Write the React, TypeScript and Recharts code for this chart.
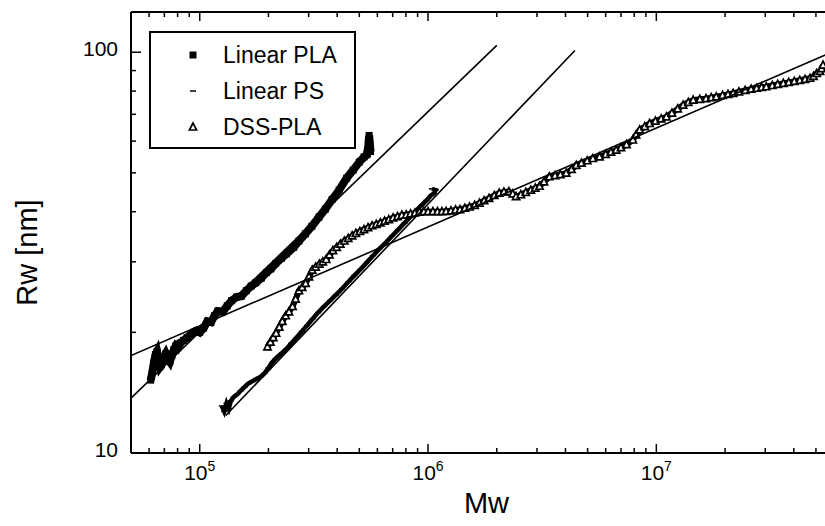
import React from "react";
import { ScatterChart, Scatter, XAxis, YAxis, Legend } from "recharts";

// Linear PLA (filled squares)
const plaMw = [
  61000, 62000, 63000, 64000, 65000, 66000, 67000, 68000, 69500, 71000, 72500,
  74000, 75500, 77000, 78500, 80000, 82000, 85000, 88000, 91000, 94000, 97000,
  100000, 104000, 108000, 112000, 116000, 120000, 126000, 132000, 138000,
  145000, 152000, 160000, 168000, 176000, 186000, 196000, 205000, 215000,
  228000, 240000, 258000, 272000, 290000, 310000, 333000, 355000, 380000,
  408000, 440000, 470000, 500000, 525000, 540000, 548000, 552000, 556000,
  560000,
];
const plaRw = [
  15.2, 15.9, 16.8, 17.6, 17.9, 17.1, 16.4, 16.6, 17.3, 17.7, 17.2, 16.9, 17.5,
  18.1, 18.5, 18.3, 18.8, 19.1, 19.4, 19.7, 20.0, 20.2, 20.0, 20.5, 21.3, 21.2,
  22.0, 22.6, 22.5, 23.3, 24.0, 24.5, 24.6, 25.4, 26.1, 26.6, 27.3, 28.2, 28.8,
  29.7, 30.6, 31.4, 32.6, 33.8, 35.2, 36.8, 38.8, 40.6, 42.9, 45.3, 48.5, 50.8,
  53.2, 54.8, 55.5, 58.5, 62.0, 59.0, 56.5,
];

// Linear PS (dashes)
const psMw = [
  125000, 128000, 131000, 134000, 137000, 141000, 146000, 151000, 157000,
  163000, 170000, 177000, 185000, 192000, 200000, 207000, 215000, 222000,
  230000, 240000, 252000, 265000, 280000, 295000, 312000, 330000, 350000,
  372000, 395000, 420000, 447000, 475000, 505000, 540000, 575000, 612000,
  650000, 695000, 740000, 790000, 840000, 890000, 940000, 985000, 1030000,
  1060000, 1080000, 1040000,
];
const psRw = [
  13.1, 12.7, 13.3, 12.9, 13.5, 13.8, 14.0, 14.3, 14.6, 14.9, 15.1, 15.3, 15.5,
  15.8, 16.3, 16.8, 17.2, 17.5, 17.8, 18.2, 18.8, 19.4, 20.1, 20.8, 21.6, 22.4,
  23.2, 24.0, 24.8, 25.7, 26.7, 27.7, 28.7, 29.9, 31.1, 32.3, 33.4, 34.8, 36.1,
  37.5, 38.9, 40.3, 41.6, 42.7, 43.9, 44.4, 45.3, 45.6,
];

// DSS-PLA (open triangles)
const dssMw = [
  198000, 204000, 210000, 216000, 223000, 230000, 238000, 246000, 255000,
  263000, 272000, 281000, 291000, 301000, 311000, 322000, 334000, 346000,
  358000, 370000, 383000, 398000, 413000, 430000, 447000, 465000, 483000,
  503000, 524000, 546000, 569000, 593000, 618000, 645000, 673000, 703000,
  735000, 768000, 802000, 838000, 876000, 916000, 958000, 1000000, 1050000,
  1100000, 1150000, 1200000, 1260000, 1320000, 1380000, 1450000, 1520000,
  1600000, 1680000, 1760000, 1850000, 1950000, 2050000, 2150000, 2260000,
  2350000, 2430000, 2550000, 2680000, 2820000, 2950000, 3080000, 3220000,
  3400000, 3600000, 3800000, 4030000, 4250000, 4460000, 4700000, 4980000,
  5270000, 5640000, 6000000, 6330000, 6670000, 7000000, 7400000, 7890000,
  8150000, 8450000, 8900000, 9350000, 9900000, 10500000, 11070000, 11700000,
  12400000, 13100000, 13800000, 14500000, 15500000, 16500000, 17400000,
  18300000, 19500000, 20600000, 21700000, 23000000, 24500000, 26000000,
  27500000, 28900000, 30300000, 32200000, 34000000, 36000000, 38000000,
  40200000, 42500000, 44800000, 47100000, 48800000, 50400000, 52100000,
  53000000, 53700000,
];
const dssRw = [
  18.4, 18.9, 19.4, 19.9, 20.6, 21.3, 22.0, 22.5, 23.2, 24.2, 25.4, 25.9, 26.5,
  27.5, 28.6, 29.1, 29.6, 30.0, 30.4, 31.2, 32.0, 32.6, 33.2, 33.8, 34.3, 34.8,
  35.3, 35.7, 36.1, 36.5, 36.9, 37.2, 37.5, 37.9, 38.2, 38.6, 38.9, 39.2, 39.3,
  39.5, 39.7, 39.9, 40.0, 40.0, 40.0, 40.0, 40.0, 40.1, 40.2, 40.4, 40.5, 40.8,
  41.1, 41.5, 42.0, 42.6, 43.2, 43.9, 44.5, 44.8, 44.9, 44.3, 43.6, 44.1, 44.7,
  45.3, 45.8, 46.3, 47.5, 48.9, 49.2, 49.5, 49.9, 51.0, 52.2, 52.9, 53.6, 54.3,
  54.8, 55.6, 56.3, 57.0, 57.8, 58.8, 60.4, 62.2, 64.0, 65.2, 66.4, 67.3, 68.2,
  69.0, 70.5, 72.2, 73.8, 75.0, 75.9, 76.3, 76.6, 77.0, 77.4, 78.0, 78.5, 78.9,
  79.6, 80.3, 80.9, 81.3, 81.7, 82.0, 82.6, 83.1, 83.6, 84.1, 84.6, 85.1, 85.6,
  86.1, 87.0, 88.5, 89.6, 91.0, 92.9,
];

// straight fits (end points)
const fitPlaMw = [50000, 2000000];
const fitPlaRw = [13.7, 104];
const fitPsMw = [130000, 4400000];
const fitPsRw = [12.4, 101];
const fitDssMw = [50000, 60000000];
const fitDssRw = [17.5, 100.6];

const xTicks = [
  5e4, 6e4, 7e4, 8e4, 9e4, 1e5, 2e5, 3e5, 4e5, 5e5, 6e5, 7e5, 8e5, 9e5, 1e6,
  2e6, 3e6, 4e6, 5e6, 6e6, 7e6, 8e6, 9e6, 1e7, 2e7, 3e7, 4e7, 5e7, 6e7,
];
const yTicks = [10, 20, 30, 40, 50, 60, 70, 80, 90, 100];

const seriesNames = ["Linear PLA", "Linear PS", "DSS-PLA"];

const FONT = '"Liberation Sans", Arial, Helvetica, sans-serif';

const toPoints = (mw: number[], rw: number[]) =>
  mw.map((m, i) => ({ mw: m, rw: rw[i] }));

const isDecade = (v: number) =>
  Math.abs(Math.log10(v) - Math.round(Math.log10(v))) < 1e-6;

const BottomTick = (props: any) => {
  const { x, y, payload } = props;
  const major = isDecade(payload.value);
  return (
    <g>
      <line x1={x} x2={x} y1={y} y2={y - (major ? 9 : 5)} stroke="#000" strokeWidth={1.5} />
      {major && (
        <text x={x} y={y + 27} textAnchor="middle" fontFamily={FONT} fontSize={21} fill="#000">
          10
          <tspan dy={-9} fontSize={14}>
            {Math.round(Math.log10(payload.value))}
          </tspan>
        </text>
      )}
    </g>
  );
};

const TopTick = (props: any) => {
  const { x, y, payload } = props;
  const major = isDecade(payload.value);
  return <line x1={x} x2={x} y1={y} y2={y + (major ? 9 : 5)} stroke="#000" strokeWidth={1.5} />;
};

const LeftTick = (props: any) => {
  const { x, y, payload } = props;
  const major = isDecade(payload.value);
  return (
    <g>
      <line x1={x} x2={x + (major ? 10 : 5)} y1={y} y2={y} stroke="#000" strokeWidth={1.5} />
      {major && (
        <text x={x - 13} y={y + 4} textAnchor="end" fontFamily={FONT} fontSize={21} fill="#000">
          {payload.value}
        </text>
      )}
    </g>
  );
};

const XTitle = ({ viewBox }: any) => (
  <text
    x={viewBox.x + viewBox.width / 2 + 4}
    y={viewBox.y + 60}
    textAnchor="middle"
    fontFamily={FONT}
    fontSize={29}
    fill="#000"
  >
    Mw
  </text>
);

const YTitle = ({ viewBox }: any) => {
  const cx = 37;
  const cy = viewBox.y + viewBox.height / 2 + 20;
  return (
    <text
      x={cx}
      y={cy}
      transform={`rotate(-90 ${cx} ${cy})`}
      textAnchor="middle"
      fontFamily={FONT}
      fontSize={29}
      fill="#000"
    >
      Rw [nm]
    </text>
  );
};

const Square = (p: any) => <rect x={p.cx - 3.5} y={p.cy - 3.5} width={7} height={7} fill="#000" />;
const Dash = (p: any) => (
  <line x1={p.cx - 3} x2={p.cx + 3} y1={p.cy} y2={p.cy} stroke="#000" strokeWidth={1.5} />
);
const Triangle = (p: any) => (
  <polygon
    points={`${p.cx},${p.cy - 4} ${p.cx - 3.6},${p.cy + 3} ${p.cx + 3.6},${p.cy + 3}`}
    fill="#fff"
    stroke="#000"
    strokeWidth={1.7}
  />
);
const NoDot = () => <g />;

const symbolFor = (i: number, cx: number, cy: number) => {
  if (i === 0) return <Square cx={cx} cy={cy} />;
  if (i === 1) return <Dash cx={cx} cy={cy} />;
  return <Triangle cx={cx} cy={cy} />;
};

const LegendBox = () => (
  <svg width={207} height={118} style={{ display: "block" }}>
    <rect x={1} y={1} width={205} height={116} fill="#fff" stroke="#000" strokeWidth={2} />
    {seriesNames.map((name, i) => (
      <g key={name}>
        {symbolFor(i, 44, 24 + i * 36)}
        <text x={74} y={32 + i * 36} fontFamily={FONT} fontSize={23} fill="#000">
          {name}
        </text>
      </g>
    ))}
  </svg>
);

const App = () => {
  return (
    <div
      style={{
        position: "absolute",
        left: 0,
        top: 0,
        width: 825,
        height: 526,
        overflow: "hidden",
        background: "#fff",
      }}
    >
      <ScatterChart width={840} height={526} margin={{ top: 0, right: 6, bottom: 13, left: 0 }}>
        <XAxis
          xAxisId="bottom"
          dataKey="mw"
          type="number"
          scale="log"
          domain={[5e4, 6e7]}
          allowDataOverflow
          ticks={xTicks}
          interval={0}
          height={60}
          tickSize={0}
          tickMargin={0}
          tickLine={false}
          tick={<BottomTick />}
          axisLine={{ stroke: "#000", strokeWidth: 2 }}
          label={<XTitle />}
        />
        <XAxis
          xAxisId="top"
          orientation="top"
          dataKey="mw"
          type="number"
          scale="log"
          domain={[5e4, 6e7]}
          allowDataOverflow
          ticks={xTicks}
          interval={0}
          height={12}
          tickSize={0}
          tickMargin={0}
          tickLine={false}
          tick={<TopTick />}
          axisLine={{ stroke: "#000", strokeWidth: 2 }}
        />
        <YAxis
          dataKey="rw"
          type="number"
          scale="log"
          domain={[10, 126]}
          allowDataOverflow
          ticks={yTicks}
          interval={0}
          width={131}
          tickSize={0}
          tickMargin={0}
          tickLine={false}
          tick={<LeftTick />}
          axisLine={{ stroke: "#000", strokeWidth: 2 }}
          label={<YTitle />}
        />
        <Legend
          layout="vertical"
          align="center"
          verticalAlign="middle"
          content={<LegendBox />}
          wrapperStyle={{ left: 149, top: 31, width: 207, height: 118 }}
        />
        <Scatter
          name="Linear PLA"
          xAxisId="bottom"
          data={toPoints(plaMw, plaRw)}
          shape={<Square />}
          line={{ stroke: "#000", strokeWidth: 8 }}
          isAnimationActive={false}
        />
        <Scatter
          name="Linear PS"
          xAxisId="bottom"
          data={toPoints(psMw, psRw)}
          shape={<Dash />}
          line={{ stroke: "#000", strokeWidth: 4.5 }}
          isAnimationActive={false}
        />
        <Scatter
          name="DSS-PLA"
          xAxisId="bottom"
          data={toPoints(dssMw, dssRw)}
          shape={<Triangle />}
          line={{ stroke: "#000", strokeWidth: 6 }}
          isAnimationActive={false}
        />
        <Scatter
          xAxisId="bottom"
          data={toPoints(fitPlaMw, fitPlaRw)}
          shape={<NoDot />}
          line={{ stroke: "#000", strokeWidth: 1.6 }}
          legendType="none"
          isAnimationActive={false}
        />
        <Scatter
          xAxisId="bottom"
          data={toPoints(fitPsMw, fitPsRw)}
          shape={<NoDot />}
          line={{ stroke: "#000", strokeWidth: 1.6 }}
          legendType="none"
          isAnimationActive={false}
        />
        <Scatter
          xAxisId="bottom"
          data={toPoints(fitDssMw, fitDssRw)}
          shape={<NoDot />}
          line={{ stroke: "#000", strokeWidth: 1.6 }}
          legendType="none"
          isAnimationActive={false}
        />
      </ScatterChart>
    </div>
  );
};

export default App;
